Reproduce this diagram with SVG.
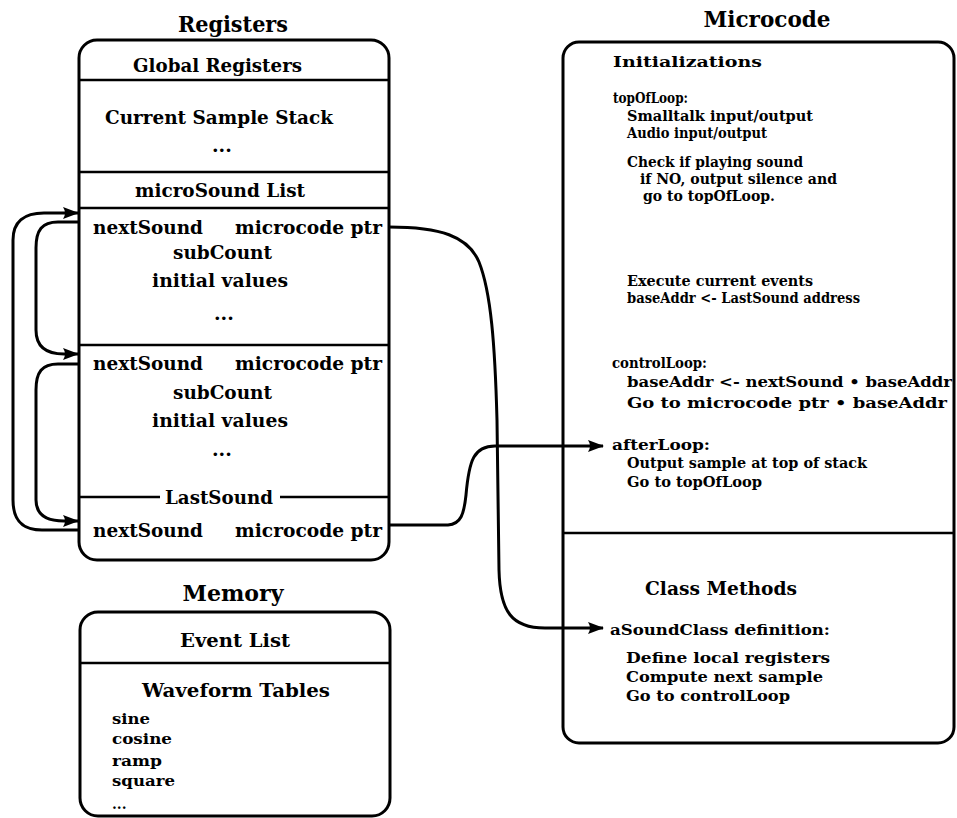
<svg xmlns="http://www.w3.org/2000/svg" width="957" height="818" viewBox="0 0 957 818">
<style>
  .box { fill: #fff; stroke: #000; stroke-width: 3; }
  .sep { stroke: #000; stroke-width: 2.5; fill: none; }
  .conn { stroke: #000; stroke-width: 3; fill: none; }
  text { font-family: "DejaVu Serif", "Liberation Serif", serif; font-weight: bold; fill: #000; dominant-baseline: central; }
  .title { font-size: 22px; text-anchor: middle; }
  .reg { font-size: 19px; }
  .mc { font-size: 14px; }
  .mem { font-size: 14px; }
  .big { font-size: 18px; }
</style>
<defs>
  <marker id="ah" viewBox="0 0 16 12" refX="15" refY="6" markerWidth="16" markerHeight="12" markerUnits="userSpaceOnUse" orient="auto">
    <path d="M0,0 L16,6 L0,12 Q4,6 0,0 Z" fill="#000"/>
  </marker>
</defs>

<g id="registers">
  <text class="title" x="233" y="24" textLength="110" lengthAdjust="spacingAndGlyphs">Registers</text>
  <rect class="box" x="79" y="40" width="310" height="520" rx="18"/>
  <line class="sep" x1="79" y1="80" x2="389" y2="80"/>
  <line class="sep" x1="79" y1="172" x2="389" y2="172"/>
  <line class="sep" x1="79" y1="208" x2="389" y2="208"/>
  <line class="sep" x1="79" y1="345" x2="389" y2="345"/>
  <line class="sep" x1="79" y1="497" x2="160" y2="497"/>
  <line class="sep" x1="280" y1="497" x2="389" y2="497"/>
  <text class="reg" x="133" y="65" textLength="169" lengthAdjust="spacingAndGlyphs">Global Registers</text>
  <text class="reg" x="105" y="117" textLength="228" lengthAdjust="spacingAndGlyphs">Current Sample Stack</text>
  <text class="reg" x="212" y="145">...</text>
  <text class="reg" x="135" y="190" textLength="170" lengthAdjust="spacingAndGlyphs">microSound List</text>
  <text class="reg" x="93" y="227" textLength="110" lengthAdjust="spacingAndGlyphs">nextSound</text>
  <text class="reg" x="235" y="227" textLength="147" lengthAdjust="spacingAndGlyphs">microcode ptr</text>
  <text class="reg" x="173" y="252" textLength="99" lengthAdjust="spacingAndGlyphs">subCount</text>
  <text class="reg" x="152" y="280" textLength="136" lengthAdjust="spacingAndGlyphs">initial values</text>
  <text class="reg" x="214" y="313">...</text>
  <text class="reg" x="93" y="363" textLength="110" lengthAdjust="spacingAndGlyphs">nextSound</text>
  <text class="reg" x="235" y="363" textLength="147" lengthAdjust="spacingAndGlyphs">microcode ptr</text>
  <text class="reg" x="173" y="392" textLength="99" lengthAdjust="spacingAndGlyphs">subCount</text>
  <text class="reg" x="152" y="420" textLength="136" lengthAdjust="spacingAndGlyphs">initial values</text>
  <text class="reg" x="212" y="449">...</text>
  <text class="reg" x="165" y="497" textLength="108" lengthAdjust="spacingAndGlyphs">LastSound</text>
  <text class="reg" x="93" y="530" textLength="110" lengthAdjust="spacingAndGlyphs">nextSound</text>
  <text class="reg" x="235" y="530" textLength="147" lengthAdjust="spacingAndGlyphs">microcode ptr</text>
</g>

<g id="memory">
  <text class="title" x="233" y="593" textLength="101" lengthAdjust="spacingAndGlyphs">Memory</text>
  <rect class="box" x="80" y="612" width="310" height="204" rx="18"/>
  <line class="sep" x1="80" y1="663" x2="390" y2="663"/>
  <text class="reg" x="180" y="640" textLength="110" lengthAdjust="spacingAndGlyphs">Event List</text>
  <text class="reg" x="142" y="690" textLength="188" lengthAdjust="spacingAndGlyphs">Waveform Tables</text>
  <text class="mem" x="112" y="719" textLength="38" lengthAdjust="spacingAndGlyphs">sine</text>
  <text class="mem" x="112" y="739" textLength="60" lengthAdjust="spacingAndGlyphs">cosine</text>
  <text class="mem" x="112" y="761" textLength="50" lengthAdjust="spacingAndGlyphs">ramp</text>
  <text class="mem" x="112" y="781" textLength="63" lengthAdjust="spacingAndGlyphs">square</text>
  <text class="mem" x="112" y="804">...</text>
</g>

<g id="microcode">
  <text class="title" x="767" y="19" textLength="127" lengthAdjust="spacingAndGlyphs">Microcode</text>
  <rect class="box" x="563" y="42" width="391" height="701" rx="16"/>
  <line class="sep" x1="563" y1="533" x2="954" y2="533"/>
  <text class="mc" x="613" y="62" textLength="149" lengthAdjust="spacingAndGlyphs">Initializations</text>
  <text class="mc" x="613" y="98" textLength="75" lengthAdjust="spacingAndGlyphs">topOfLoop:</text>
  <text class="mc" x="627" y="116" textLength="186" lengthAdjust="spacingAndGlyphs">Smalltalk input/output</text>
  <text class="mc" x="627" y="133" textLength="140" lengthAdjust="spacingAndGlyphs">Audio input/output</text>
  <text class="mc" x="627" y="162" textLength="176" lengthAdjust="spacingAndGlyphs">Check if playing sound</text>
  <text class="mc" x="640" y="179" textLength="197" lengthAdjust="spacingAndGlyphs">if NO, output silence and</text>
  <text class="mc" x="643" y="196" textLength="132" lengthAdjust="spacingAndGlyphs">go to topOfLoop.</text>
  <text class="mc" x="627" y="281" textLength="186" lengthAdjust="spacingAndGlyphs">Execute current events</text>
  <text class="mc" x="627" y="298" textLength="233" lengthAdjust="spacingAndGlyphs">baseAddr &lt;- LastSound address</text>
  <text class="mc" x="612" y="363" textLength="95" lengthAdjust="spacingAndGlyphs">controlLoop:</text>
  <text class="mc" x="627" y="382" textLength="325" lengthAdjust="spacingAndGlyphs">baseAddr &lt;- nextSound • baseAddr</text>
  <text class="mc" x="627" y="403" textLength="320" lengthAdjust="spacingAndGlyphs">Go to microcode ptr • baseAddr</text>
  <text class="mc" x="612" y="445" textLength="98" lengthAdjust="spacingAndGlyphs">afterLoop:</text>
  <text class="mc" x="627" y="463" textLength="240" lengthAdjust="spacingAndGlyphs">Output sample at top of stack</text>
  <text class="mc" x="627" y="482" textLength="135" lengthAdjust="spacingAndGlyphs">Go to topOfLoop</text>
  <text class="big" x="645" y="588" textLength="152" lengthAdjust="spacingAndGlyphs">Class Methods</text>
  <text class="mc" x="610" y="630" textLength="220" lengthAdjust="spacingAndGlyphs">aSoundClass definition:</text>
  <text class="mc" x="626" y="658" textLength="204" lengthAdjust="spacingAndGlyphs">Define local registers</text>
  <text class="mc" x="626" y="677" textLength="197" lengthAdjust="spacingAndGlyphs">Compute next sample</text>
  <text class="mc" x="626" y="696" textLength="164" lengthAdjust="spacingAndGlyphs">Go to controlLoop</text>
</g>

<g id="connectors">
  <path class="conn" marker-end="url(#ah)" d="M79,530 L42,530 C22,530 13,520 13,500 L13,240 C13,222 24,213 44,213 L78,213"/>
  <path class="conn" marker-end="url(#ah)" d="M79,222 L58,222 C42,222 36,230 36,248 L36,330 C36,347 46,354 64,354 L78,354"/>
  <path class="conn" marker-end="url(#ah)" d="M79,364 L58,364 C42,364 36,372 36,390 L36,500 C36,515 46,521 64,521 L78,521"/>
  <path class="conn" marker-end="url(#ah)" d="M389,227 C440,227 468,236 479,262 C491,292 495,345 497,420 L499,570 C500,612 512,628 545,628 L603,628"/>
  <path class="conn" marker-end="url(#ah)" d="M389,525 L448,525 C461,524 464,514 466,495 C469,460 474,446 495,446 L603,446"/>
</g>
</svg>
